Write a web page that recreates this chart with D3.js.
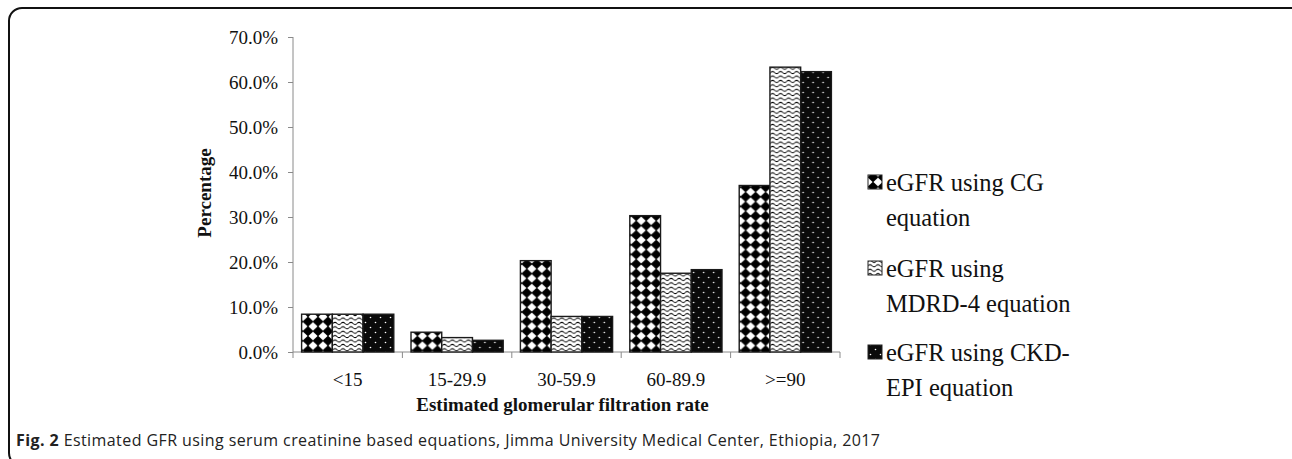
<!DOCTYPE html>
<html><head><meta charset="utf-8">
<script src="https://cdn.jsdelivr.net/npm/d3@7"></script>
<style>
html,body{margin:0;padding:0;background:#fff;}
svg{display:block;}
</style></head>
<body>
<svg id="chart" width="1292" height="459"></svg>
<script>
const categories = ["<15", "15-29.9", "30-59.9", "60-89.9", ">=90"];
const seriesNames = ["eGFR using CG equation", "eGFR using MDRD-4 equation", "eGFR using CKD-EPI equation"];
const legendLines = [["eGFR using CG", "equation"], ["eGFR using", "MDRD-4 equation"], ["eGFR using CKD-", "EPI equation"]];
const cgValues = [8.4, 4.4, 20.3, 30.3, 37.0];
const mdrdValues = [8.4, 3.2, 7.9, 17.5, 63.3];
const ckdValues = [8.4, 2.6, 7.9, 18.3, 62.3];
const yTicks = [0, 10, 20, 30, 40, 50, 60, 70];
const xTitle = "Estimated glomerular filtration rate";
const yTitle = "Percentage";
const captionBold = "Fig. 2";
const captionText = " Estimated GFR using serum creatinine based equations, Jimma University Medical Center, Ethiopia, 2017";

const seriesValues = [cgValues, mdrdValues, ckdValues];
const svg = d3.select("#chart");
const serif = "'Liberation Serif','Times New Roman',serif";

// patterns
const defs = svg.append("defs");
const pCG = defs.append("pattern").attr("id","pCG").attr("patternUnits","userSpaceOnUse")
  .attr("width",10).attr("height",9.6);
pCG.append("rect").attr("width",10).attr("height",9.6).attr("fill","#fff");
pCG.append("polygon").attr("points","5,-0.4 10.4,4.8 5,10 -0.4,4.8").attr("fill","#000");

const pMD = defs.append("pattern").attr("id","pMD").attr("patternUnits","userSpaceOnUse")
  .attr("width",8).attr("height",4.4);
pMD.append("rect").attr("width",8).attr("height",4.4).attr("fill","#fff");
pMD.append("path").attr("d","M0,2.2 Q2,0.2 4,2.2 T8,2.2").attr("fill","none").attr("stroke","#000").attr("stroke-width",0.9);

const pCK = defs.append("pattern").attr("id","pCK").attr("patternUnits","userSpaceOnUse")
  .attr("width",10).attr("height",10);
pCK.append("rect").attr("width",10).attr("height",10).attr("fill","#0a0a0a");
pCK.append("circle").attr("cx",2.5).attr("cy",2.5).attr("r",0.8).attr("fill","#fff");
pCK.append("circle").attr("cx",7.5).attr("cy",7.5).attr("r",0.8).attr("fill","#fff");

const fills = ["url(#pCG)","url(#pMD)","url(#pCK)"];

// frame
svg.append("rect").attr("x",9).attr("y",8).attr("width",1300).attr("height",458)
  .attr("rx",13).attr("fill","none").attr("stroke","#111").attr("stroke-width",2);

const x0 = d3.scaleBand().domain(categories).range([293, 840]).padding(0);
const x1 = d3.scaleBand().domain(d3.range(3)).range([0, x0.bandwidth()]).paddingInner(0).paddingOuter(0.28);
const y = d3.scaleLinear().domain([0, 70]).range([352, 37]);

// axes
const axisColor = "#8a8a8a";
const yAxis = svg.append("g").attr("transform","translate(293,0)")
  .call(d3.axisLeft(y).tickValues(yTicks).tickSize(5).tickFormat(d => d.toFixed(1) + "%"));
yAxis.select(".domain").attr("stroke",axisColor).attr("d","M0,"+y(70)+"V"+y(0));
yAxis.selectAll(".tick line").attr("stroke",axisColor);
yAxis.selectAll(".tick text").attr("font-family",serif).attr("font-size",19).attr("fill","#111").attr("x",-15);

const xAxisG = svg.append("g").attr("transform","translate(0,352)");
xAxisG.append("line").attr("x1",x0.range()[0]).attr("x2",x0.range()[1]).attr("stroke",axisColor);
const bounds = categories.map(c => x0(c)).concat([x0.range()[1]]);
xAxisG.selectAll("line.tk").data(bounds).join("line").attr("class","tk")
  .attr("x1",d=>d).attr("x2",d=>d).attr("y1",0).attr("y2",6).attr("stroke",axisColor);
xAxisG.selectAll("text").data(categories).join("text")
  .attr("x",d=>x0(d)+x0.bandwidth()/2).attr("y",34).attr("text-anchor","middle")
  .attr("font-family",serif).attr("font-size",19).attr("fill","#111").text(d=>d);

// bars
const groups = svg.append("g").selectAll("g").data(categories).join("g")
  .attr("transform",d=>"translate("+x0(d)+",0)");
groups.selectAll("rect").data((d,i)=>seriesValues.map((s,k)=>({k, v:s[i]}))).join("rect")
  .attr("x",d=>x1(d.k)).attr("width",x1.bandwidth())
  .attr("y",d=>y(d.v)).attr("height",d=>y(0)-y(d.v))
  .attr("fill",d=>fills[d.k]).attr("stroke","#1a1a1a").attr("stroke-width",1.4);

// titles
svg.append("text").attr("x",(293+840)/2 - 4).attr("y",411).attr("text-anchor","middle")
  .attr("font-family",serif).attr("font-weight","bold").attr("font-size",19).attr("fill","#111").text(xTitle);
svg.append("text").attr("transform","translate(211,193) rotate(-90)").attr("text-anchor","middle")
  .attr("font-family",serif).attr("font-weight","bold").attr("font-size",19).attr("fill","#111").text(yTitle);

// legend
const legY = [182, 268, 352];
const leg = svg.append("g");
legendLines.forEach((lines,i)=>{
  const g = leg.append("g").attr("transform","translate(868,"+legY[i]+")");
  g.append("rect").attr("x",0).attr("y",-7).attr("width",14).attr("height",14)
    .attr("fill",fills[i]).attr("stroke","#222").attr("stroke-width",1);
  lines.forEach((t,j)=>{
    g.append("text").attr("x",18).attr("y",j*35+9).attr("font-family",serif)
      .attr("font-size",24.5).attr("fill","#111").text(t);
  });
});

// caption
const cap = svg.append("text").attr("x",16).attr("y",446)
  .attr("font-family","'Open Sans','Noto Sans',sans-serif").attr("font-size",16).attr("fill","#222")
  .attr("textLength",864).attr("lengthAdjust","spacing");
cap.append("tspan").attr("font-weight","bold").text(captionBold);
cap.append("tspan").text(captionText);
</script>
</body></html>
